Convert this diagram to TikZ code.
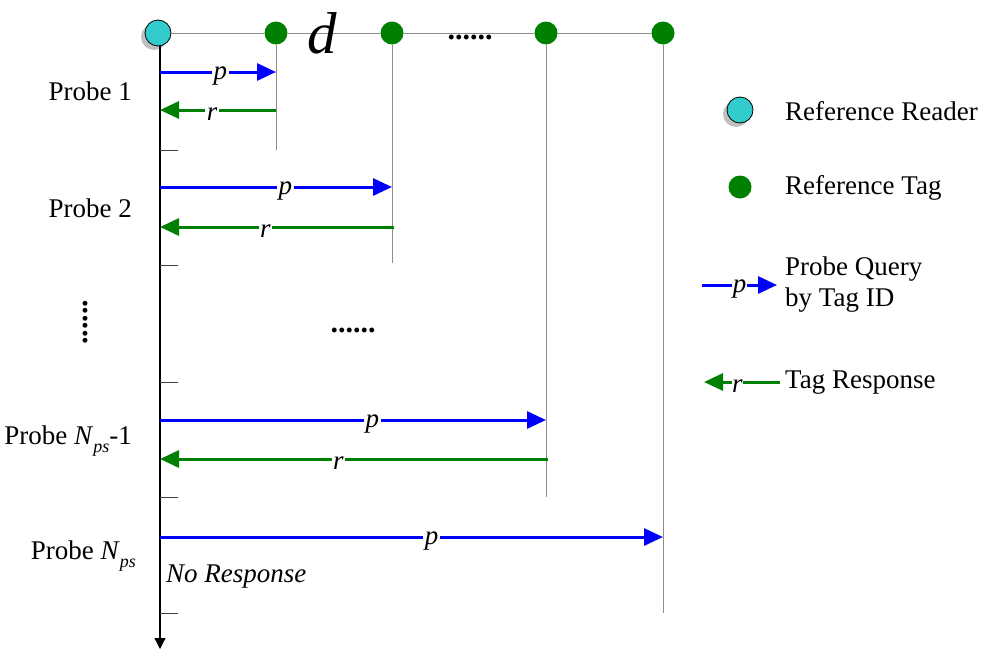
\documentclass[tikz,border=0pt]{standalone}
\usepackage{fontspec}
\setmainfont{Liberation Serif}
\usetikzlibrary{arrows.meta}

\definecolor{tagGreen}{RGB}{0,128,0}
\definecolor{readerCyan}{RGB}{51,204,204}
\definecolor{guideGray}{RGB}{140,140,140}
\definecolor{shadowGray}{RGB}{192,192,192}

\newcommand{\Nps}{\textit{N}\raisebox{-0.3em}{\fontsize{18}{18}\selectfont\itshape ps}}

\tikzset{
  txt/.style={font=\fontsize{27}{31}\selectfont, inner sep=0pt},
  lbl/.style={font=\fontsize{27}{31}\selectfont\itshape, text=black, fill=white, inner sep=1.5pt, yshift=-4pt},
  dots/.style={font=\fontsize{30}{30}\selectfont\bfseries, inner sep=0pt},
  guide/.style={guideGray, line width=1pt},
  tickmark/.style={black!75, line width=1pt},
  probe/.style={blue, line width=3pt, -{Triangle[length=19pt,width=17pt]}},
  resp/.style={tagGreen, line width=3pt, -{Triangle[length=19pt,width=17pt]}},
  tagdot/.style={circle, fill=tagGreen, minimum size=23pt, inner sep=0pt},
  reader/.style={circle, draw=black, line width=0.8pt, fill=readerCyan, minimum size=26pt, inner sep=0pt},
  rshadow/.style={circle, fill=shadowGray, minimum size=26pt, inner sep=0pt},
}

\begin{document}
\begin{tikzpicture}[x=1pt,y=-1pt]
  \useasboundingbox (0,0) rectangle (981,651);

  % top line of reference tags
  \node[rshadow] (rdShadow) at (154,37) {};
  \node[reader] (rd) at (158,33) {};
  \node[tagdot] (t1) at (276,33) {};
  \node[tagdot] (t2) at (392,33) {};
  \node[tagdot] (t3) at (546,33) {};
  \node[tagdot] (t4) at (663,33) {};
  \draw[guide] (rd.east) -- (t1.west);
  \draw[guide] (t1.east) -- (t2.west);
  \draw[guide] (t2.east) -- (t3.west);
  \draw[guide] (t3.east) -- (t4.west);
  \node[font=\fontsize{59}{59}\selectfont\itshape, inner sep=0pt] (dlbl) at (322,33) {d};
  \node[dots, fill=white] (topdots) at (470,37) {......};

  % time axis of the reader
  \coordinate (axTop) at (160,46);
  \coordinate (axEnd) at (160,649);
  \draw[black, line width=1.2pt, -{Triangle[length=11pt,width=11pt]}] (axTop) -- (axEnd);

  % tick marks between probes
  \foreach \y [count=\i] in {150,265,382,497,613}
    \draw[tickmark] (160,\y) coordinate (tk\i) -- (178,\y);

  % vertical guides below the tags
  \coordinate (g1) at (276,150);
  \coordinate (g2) at (392,263);
  \coordinate (g3) at (546,497);
  \coordinate (g4) at (663,613);
  \draw[guide] (t1.south) -- (g1);
  \draw[guide] (t2.south) -- (g2);
  \draw[guide] (t3.south) -- (g3);
  \draw[guide] (t4.south) -- (g4);

  % probe 1
  \coordinate (p1s) at (160,72);  \coordinate (p1e) at (276,72);
  \coordinate (r1s) at (276,110); \coordinate (r1e) at (160,110);
  \draw[probe] (p1s) -- node[lbl, pos=0.52] {p} (p1e);
  \draw[resp] (r1s) -- node[lbl, pos=0.55] {r} (r1e);
  \node[txt, anchor=east] (pr1) at (132,91) {Probe 1};

  % probe 2
  \coordinate (p2s) at (160,187); \coordinate (p2e) at (392,187);
  \coordinate (r2s) at (394,227); \coordinate (r2e) at (160,227);
  \draw[probe] (p2s) -- node[lbl, pos=0.54] {p} (p2e);
  \draw[resp] (r2s) -- node[lbl, pos=0.55] {r} (r2e);
  \node[txt, anchor=east] (pr2) at (132,208) {Probe 2};

  % omitted probes
  \node[dots, rotate=90] (vdots) at (85,322) {......};
  \node[dots] (middots) at (353,330) {......};

  % probe N_ps - 1
  \coordinate (p3s) at (160,420); \coordinate (p3e) at (546,420);
  \coordinate (r3s) at (548,459); \coordinate (r3e) at (160,459);
  \draw[probe] (p3s) -- node[lbl, pos=0.55] {p} (p3e);
  \draw[resp] (r3s) -- node[lbl, pos=0.54] {r} (r3e);
  \node[txt, anchor=east] (pr3) at (132,441) {Probe \Nps-1};

  % probe N_ps
  \coordinate (p4s) at (160,537); \coordinate (p4e) at (663,537);
  \draw[probe] (p4s) -- node[lbl, pos=0.54] {p} (p4e);
  \node[txt, anchor=east] (pr4) at (136,556) {Probe \Nps};
  \node[txt, font=\fontsize{27}{31}\selectfont\itshape, anchor=west] (nores) at (166,577) {No Response};

  % legend
  \node[rshadow] (lgShadow) at (736,114) {};
  \node[reader] (lgReader) at (740,110) {};
  \node[txt, anchor=west] (lgReaderTxt) at (785,111) {Reference Reader};
  \node[tagdot] (lgTag) at (740,187) {};
  \node[txt, anchor=west] (lgTagTxt) at (785,188) {Reference Tag};
  \coordinate (lpS) at (702,285); \coordinate (lpE) at (777,285);
  \draw[probe] (lpS) -- node[lbl, pos=0.5, inner sep=0.5pt] {p} (lpE);
  \node[txt, anchor=west, align=left] (lgProbeTxt) at (785,285) {Probe Query\\by Tag ID};
  \coordinate (lrS) at (780,382); \coordinate (lrE) at (704,382);
  \draw[resp] (lrS) -- node[lbl, pos=0.56, inner sep=0.5pt] {r} (lrE);
  \node[txt, anchor=west] (lgRespTxt) at (785,383) {Tag Response};
\end{tikzpicture}
\end{document}
